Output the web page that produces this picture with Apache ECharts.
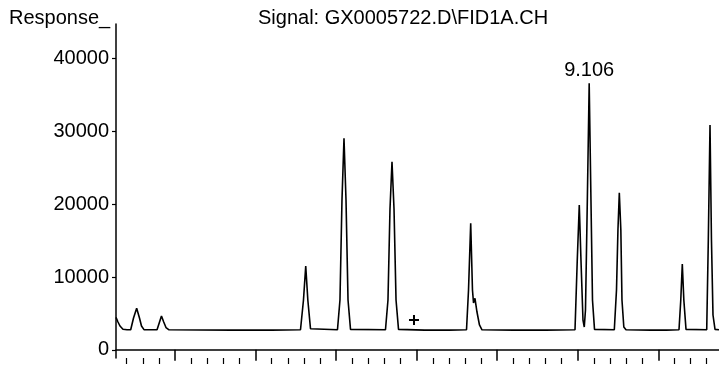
<!DOCTYPE html>
<html><head><meta charset="utf-8">
<script src="https://cdn.jsdelivr.net/npm/echarts@6/dist/echarts.min.js"></script>
<style>html,body{margin:0;padding:0;background:#fff}#c{width:719px;height:370px}</style>
</head><body><div id="c"></div>
<script>
// Retention time (min) and detector response
const times = [
  3.2675, 3.292, 3.317, 3.354, 3.404,
  3.450, 3.485, 3.524, 3.559, 3.584, 3.615,
  3.777, 3.808, 3.832, 3.860, 3.888, 3.926,
  4.31, 4.70, 4.93, 5.20,
  5.558, 5.595, 5.623, 5.649, 5.682, 5.701,
  6.017, 6.048, 6.073, 6.098, 6.123, 6.148, 6.179,
  6.613, 6.644, 6.669, 6.694, 6.719, 6.744, 6.775,
  7.10, 7.40,
  7.619, 7.644, 7.671, 7.693, 7.706, 7.724, 7.749, 7.780, 7.811,
  8.20, 8.60,
  8.966, 8.994, 9.019, 9.040, 9.065, 9.081,
  9.096, 9.119, 9.142, 9.164, 9.183, 9.208,
  9.454, 9.481, 9.499, 9.516, 9.535, 9.549, 9.572, 9.599,
  9.90, 10.10,
  10.257, 10.279, 10.298, 10.317, 10.344,
  10.601, 10.621, 10.642, 10.660, 10.679, 10.704, 10.7536
];
const responses = [
  4450, 3820, 3270, 2820, 2750,
  2750, 4370, 5700, 4370, 3270, 2770,
  2750, 3820, 4640, 3820, 3060, 2750,
  2720, 2700, 2720, 2700,
  2750, 6840, 11510, 6840, 2900, 2750,
  2750, 6840, 20580, 29050, 20580, 6840, 2800,
  2750, 6840, 19340, 25840, 19340, 6840, 2800,
  2700, 2700,
  2750, 8210, 17380, 8210, 6430, 7070, 5190, 3410, 2750,
  2700, 2700,
  2750, 12340, 19890, 12340, 4090, 3130,
  5470, 20580, 36610, 20580, 6840, 2800,
  2750, 8210, 16460, 21580, 16460, 6840, 3130, 2750,
  2700, 2700,
  2750, 6840, 11790, 6840, 2800,
  2750, 15080, 30880, 15080, 4780, 2800, 2750
];
const yTicks = [0, 10000, 20000, 30000, 40000];
const xMajorTicks = [4, 5, 6, 7, 8, 9, 10];
const xMinorTicks = [3.4, 3.6, 3.8, 4.2, 4.4, 4.6, 4.8, 5.2, 5.4, 5.6, 5.8,
  6.2, 6.4, 6.6, 6.8, 7.2, 7.4, 7.6, 7.8, 8.2, 8.4, 8.6, 8.8,
  9.2, 9.4, 9.6, 9.8, 10.2, 10.4, 10.6];
const peakLabelPoint = [9.142, 36610];
const peakLabelText = '9.106';
const plusMark = [6.967, 4090];
const titleText = 'Signal: GX0005722.D\\FID1A.CH';
const yName = 'Response_';

const FONT = 'Liberation Sans, Arial, sans-serif';
const chart = echarts.init(document.getElementById('c'), null, {renderer: 'canvas'});
const xBase = {
  type: 'value', min: 3.2675, max: 10.7536, position: 'bottom',
  axisLabel: {show: false}, splitLine: {show: false}
};
chart.setOption({
  animation: false,
  backgroundColor: '#fff',
  grid: {left: 116, right: 0, top: 24, bottom: 12, containLabel: false},
  xAxis: [
    Object.assign({}, xBase, {
      axisLine: {show: true, lineStyle: {color: '#000', width: 1.5}},
      axisTick: {show: true, customValues: xMajorTicks, length: 11, lineStyle: {color: '#000', width: 1.5}}
    }),
    Object.assign({}, xBase, {
      axisLine: {show: false},
      axisTick: {show: true, customValues: xMinorTicks, length: 6, lineStyle: {color: '#000', width: 1.2}}
    })
  ],
  yAxis: {
    type: 'value', min: -1126, max: 44753,
    axisLine: {show: true, lineStyle: {color: '#000', width: 1.5}},
    axisTick: {show: true, customValues: yTicks, length: 4, lineStyle: {color: '#000', width: 1.2}},
    axisLabel: {customValues: yTicks, margin: 7, fontSize: 20, color: '#000', fontFamily: FONT,
      formatter: v => String(v)},
    splitLine: {show: false}
  },
  graphic: [
    {type: 'text', left: 9, top: 8, style: {text: yName, font: '20px ' + FONT, fill: '#000'}},
    {type: 'text', left: 258, top: 8, style: {text: titleText, font: '20px ' + FONT, fill: '#000'}}
  ],
  series: [
    {
      type: 'line', xAxisIndex: 0, showSymbol: false, smooth: false,
      lineStyle: {color: '#000', width: 1.6},
      data: times.map((t, i) => [t, responses[i]])
    },
    {
      type: 'scatter', xAxisIndex: 0, symbolSize: 0,
      itemStyle: {opacity: 1},
      data: [peakLabelPoint],
      label: {show: true, position: 'top', distance: 3, formatter: peakLabelText,
        fontSize: 20, color: '#000', opacity: 1, fontFamily: FONT}
    },
    {
      type: 'scatter', xAxisIndex: 0,
      symbol: 'path://M4,0h2v4h4v2h-4v4h-2v-4h-4v-2h4z', symbolSize: 10,
      itemStyle: {color: '#000', opacity: 1},
      data: [plusMark]
    }
  ]
});
</script></body></html>
